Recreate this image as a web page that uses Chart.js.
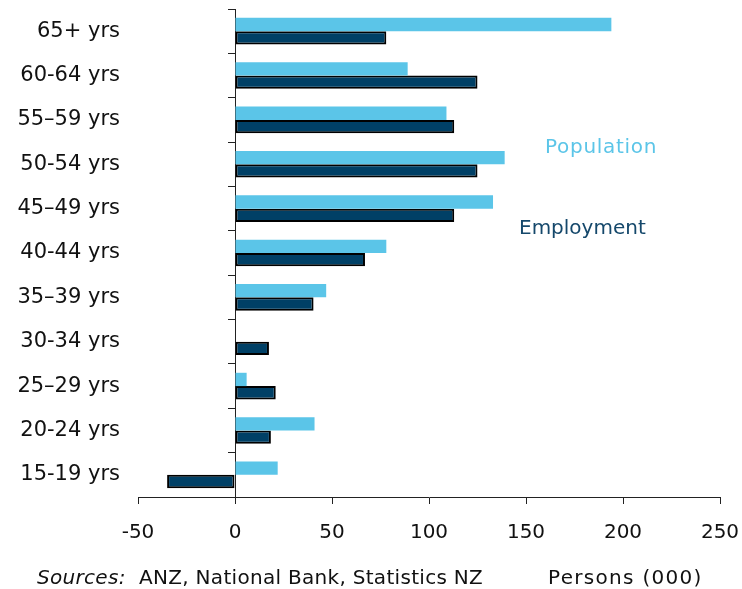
<!DOCTYPE html>
<html>
<head>
<meta charset="utf-8">
<script src="https://cdn.jsdelivr.net/npm/chart.js@4"></script>
<style>
  html, body { margin: 0; padding: 0; background: #fff; }
  #wrap { position: relative; width: 742px; height: 589px; font-family: 'DejaVu Sans', sans-serif; }
  #wrap canvas { position: absolute; left: 0; top: 0; }
  .note { position: absolute; white-space: nowrap; font-size: 20px; line-height: 1; }
</style>
</head>
<body>
<div id="wrap">
  <canvas id="ageChart" width="742" height="589"></canvas>
  <div class="note" style="left:545px; top:136px; color:#5BC5E8; letter-spacing:0.7px;">Population</div>
  <div class="note" style="left:519px; top:217px; color:#15486B;">Employment</div>
  <div class="note" style="left:37px; top:567px; color:#111; letter-spacing:0.3px;"><i>Sources:</i>&nbsp; ANZ, National Bank, Statistics NZ</div>
  <div class="note" style="left:548px; top:567px; color:#111; letter-spacing:1.3px;">Persons (000)</div>
</div>
<script>
const ageGroups = ['65+ yrs', '60-64 yrs', '55–59 yrs', '50-54 yrs', '45–49 yrs', '40-44 yrs',
                   '35–39 yrs', '30-34 yrs', '25–29 yrs', '20-24 yrs', '15-19 yrs'];
const population = [194, 89, 109, 139, 133, 78, 47, 0, 6, 41, 22];
const employment = [78, 125, 113, 125, 113, 67, 40.5, 17.5, 21, 18.5, -35];
const xTicks = [-50, 0, 50, 100, 150, 200, 250];

document.addEventListener('DOMContentLoaded', function() {
    const ctx = document.getElementById('ageChart').getContext('2d');

    new Chart(ctx, {
        type: 'bar',
        data: {
            labels: ageGroups,
            datasets: [
                {
                    label: 'Population',
                    data: population,
                    backgroundColor: '#5BC5E8',
                    borderWidth: 0,
                    categoryPercentage: 0.6,
                    barPercentage: 1.0
                },
                {
                    label: 'Employment',
                    data: employment,
                    backgroundColor: '#004066',
                    borderColor: '#000',
                    borderWidth: 2,
                    borderSkipped: false,
                    categoryPercentage: 0.6,
                    barPercentage: 1.0
                }
            ]
        },
        options: {
            indexAxis: 'y',
            responsive: false,
            animation: false,
            layout: { padding: { top: 9, right: 22, left: 0, bottom: 0 } },
            plugins: {
                legend: { display: false },
                tooltip: { enabled: false }
            },
            scales: {
                x: {
                    min: xTicks[0],
                    max: xTicks[xTicks.length - 1],
                    afterBuildTicks: function(scale) {
                        scale.ticks = xTicks.map(v => ({ value: v }));
                    },
                    border: { color: '#222', width: 1 },
                    grid: { drawOnChartArea: false, tickLength: 7, color: '#222' },
                    ticks: {
                        color: '#111',
                        padding: 17,
                        font: { family: 'DejaVu Sans', size: 20 },
                        maxRotation: 0
                    },
                    afterFit: function(scale) {
                        scale.height = 92;
                        scale.paddingLeft = 0;
                        scale.paddingRight = 0;
                    }
                },
                y: {
                    position: 'left',
                    border: { display: false },
                    grid: { display: false, drawTicks: false },
                    ticks: {
                        color: '#111',
                        padding: 18,
                        font: { family: 'DejaVu Sans', size: 21 }
                    },
                    afterFit: function(scale) {
                        scale.width = 138;
                        scale.paddingTop = 0;
                        scale.paddingBottom = 0;
                    }
                },
                y2: {
                    type: 'category',
                    axis: 'y',
                    position: { x: 0 },
                    offset: true,
                    border: { color: '#222', width: 1 },
                    grid: { offset: true, drawOnChartArea: false, tickLength: 7, color: '#222' },
                    ticks: { display: false },
                    afterFit: function(scale) {
                        scale.paddingTop = 0;
                        scale.paddingBottom = 0;
                    }
                }
            }
        }
    });
});
</script>
</body>
</html>
